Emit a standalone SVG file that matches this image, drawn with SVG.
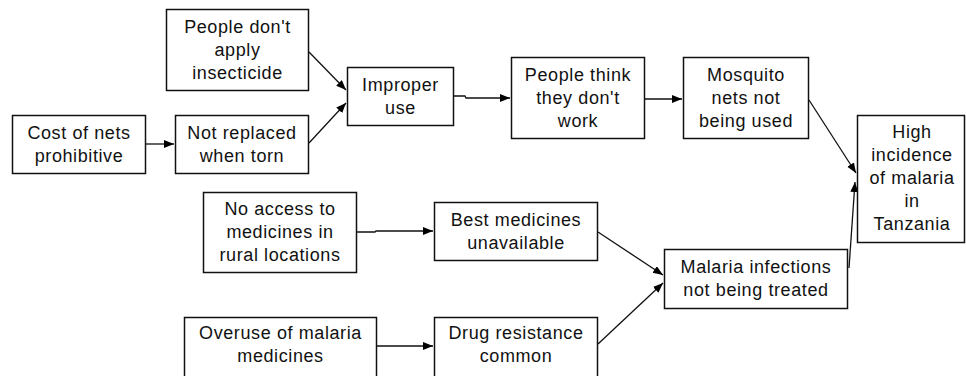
<svg xmlns="http://www.w3.org/2000/svg" width="966" height="376" viewBox="0 0 966 376">
<style>
.box{fill:#fff;stroke:#111;stroke-width:1.5}
.t{font-family:"Liberation Sans",Arial,sans-serif;font-size:18px;letter-spacing:0.6px;fill:#111;text-anchor:middle}
.c{fill:none;stroke:#111;stroke-width:1.3}
</style>
<defs>
<marker id="ah" markerUnits="userSpaceOnUse" markerWidth="11" markerHeight="9" refX="10" refY="4" orient="auto">
<path d="M0,0 L10,4 L0,8 z" fill="#000"/>
</marker>
</defs>
<rect width="966" height="376" fill="#fff"/>
<g id="connectors">
<line class="c" x1="146" y1="144" x2="174" y2="144" marker-end="url(#ah)"/>
<line class="c" x1="309" y1="52" x2="346" y2="90" marker-end="url(#ah)"/>
<line class="c" x1="309" y1="143" x2="346" y2="103" marker-end="url(#ah)"/>
<polyline class="c" points="454,96 465,96 466,98 510,98" marker-end="url(#ah)"/>
<line class="c" x1="645" y1="99" x2="682" y2="99" marker-end="url(#ah)"/>
<line class="c" x1="809" y1="100" x2="856" y2="173" marker-end="url(#ah)"/>
<line class="c" x1="849" y1="268" x2="855" y2="182" marker-end="url(#ah)"/>
<polyline class="c" points="357,232 375,232 376,231 433,231" marker-end="url(#ah)"/>
<line class="c" x1="377" y1="346" x2="433" y2="346" marker-end="url(#ah)"/>
<line class="c" x1="598" y1="232" x2="663" y2="275" marker-end="url(#ah)"/>
<line class="c" x1="598" y1="344" x2="663" y2="283" marker-end="url(#ah)"/>
</g>
<g id="n_insecticide"><rect class="box" x="166.5" y="9.5" width="142" height="81"/>
<text class="t" x="237.5" y="32.5">People don't</text><text class="t" x="237.5" y="55.5">apply</text><text class="t" x="237.5" y="78.5">insecticide</text></g>
<g id="n_cost"><rect class="box" x="12.5" y="115.5" width="133" height="58"/>
<text class="t" x="79" y="138.5">Cost of nets</text><text class="t" x="79" y="161.5">prohibitive</text></g>
<g id="n_torn"><rect class="box" x="175.5" y="115.5" width="133" height="58"/>
<text class="t" x="242" y="138.5">Not replaced</text><text class="t" x="242" y="161.5">when torn</text></g>
<g id="n_improper"><rect class="box" x="347.5" y="67.5" width="106" height="58"/>
<text class="t" x="400.5" y="90.5">Improper</text><text class="t" x="400.5" y="113.5">use</text></g>
<g id="n_think"><rect class="box" x="511.5" y="57.5" width="133" height="81"/>
<text class="t" x="578" y="80.5">People think</text><text class="t" x="578" y="103.5">they don't</text><text class="t" x="578" y="126.5">work</text></g>
<g id="n_mosquito"><rect class="box" x="683.5" y="57.5" width="125" height="81"/>
<text class="t" x="746" y="80.5">Mosquito</text><text class="t" x="746" y="103.5">nets not</text><text class="t" x="746" y="126.5">being used</text></g>
<g id="n_high"><rect class="box" x="857.5" y="115.5" width="107" height="127"/>
<text class="t" x="912" y="138">High</text><text class="t" x="912" y="161">incidence</text><text class="t" x="912" y="184">of malaria</text><text class="t" x="912" y="207">in</text><text class="t" x="912" y="230">Tanzania</text></g>
<g id="n_noaccess"><rect class="box" x="203.5" y="192.5" width="153" height="80"/>
<text class="t" x="280" y="215">No access to</text><text class="t" x="280" y="238">medicines in</text><text class="t" x="280" y="261">rural locations</text></g>
<g id="n_best"><rect class="box" x="434.5" y="202.5" width="163" height="58"/>
<text class="t" x="516" y="225.5">Best medicines</text><text class="t" x="516" y="248.5">unavailable</text></g>
<g id="n_overuse"><rect class="box" x="184.5" y="317.5" width="192" height="70"/>
<text class="t" x="280.5" y="338.5">Overuse of malaria</text><text class="t" x="280.5" y="361.5">medicines</text></g>
<g id="n_drug"><rect class="box" x="434.5" y="317.5" width="163" height="70"/>
<text class="t" x="516" y="338.5">Drug resistance</text><text class="t" x="516" y="361.5">common</text></g>
<g id="n_malaria"><rect class="box" x="664.5" y="249.5" width="183" height="59"/>
<text class="t" x="756" y="273">Malaria infections</text><text class="t" x="756" y="296">not being treated</text></g>
</svg>
